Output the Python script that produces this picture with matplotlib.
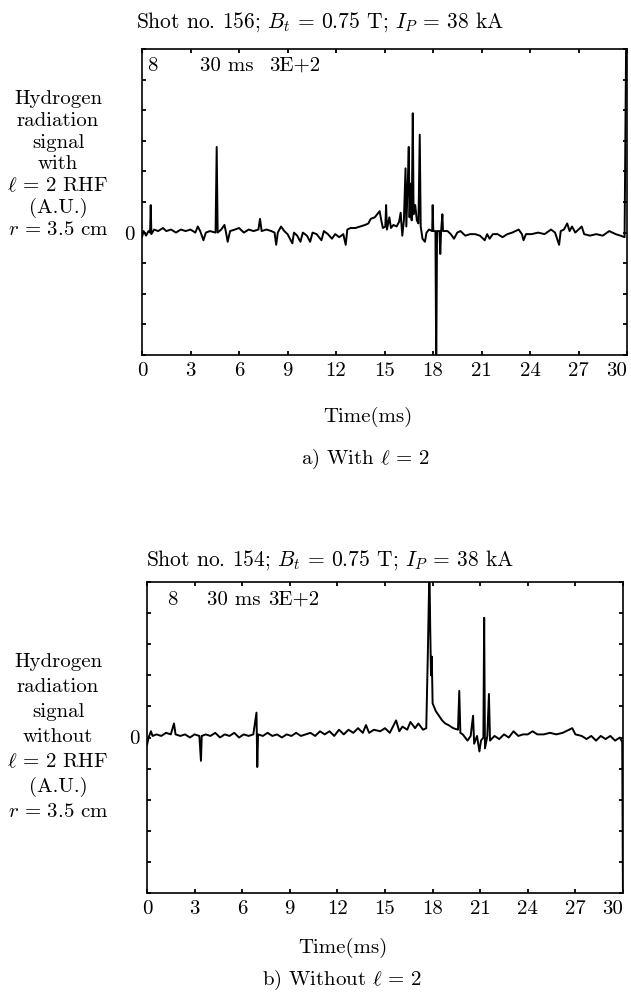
import matplotlib
matplotlib.use("Agg")
import matplotlib.pyplot as plt

plt.rcParams['font.family'] = ['cmr10', 'DejaVu Serif']
plt.rcParams['mathtext.fontset'] = 'cm'
plt.rcParams['axes.formatter.use_mathtext'] = True

# shot 156, with l=2 RHF  (time in ms, signal in tick units)
t_with = [0.00, 0.10, 0.25, 0.40, 0.50, 0.54, 0.58, 0.75, 1.00, 1.30,
          1.50, 1.80, 2.10, 2.40, 2.70, 3.00, 3.30, 3.45, 3.60, 3.80,
          3.95, 4.20, 4.55, 4.62, 4.68, 4.90, 5.10, 5.20, 5.30, 5.45,
          5.75, 6.00, 6.30, 6.60, 6.90, 7.20, 7.30, 7.40, 7.70, 8.00,
          8.20, 8.30, 8.40, 8.60, 8.80, 9.00, 9.30, 9.40, 9.60, 9.80,
          9.95, 10.20, 10.40, 10.55, 10.80, 11.10, 11.25, 11.50, 11.75, 11.95,
          12.20, 12.45, 12.60, 12.70, 12.90, 13.20, 13.50, 13.80, 14.00, 14.15,
          14.40, 14.70, 14.80, 14.90, 15.05, 15.10, 15.15, 15.30, 15.40, 15.55,
          15.75, 15.90, 16.00, 16.10, 16.20, 16.30, 16.35, 16.45, 16.50, 16.55,
          16.60, 16.68, 16.75, 16.80, 16.90, 17.00, 17.10, 17.18, 17.24, 17.35,
          17.50, 17.60, 17.75, 17.95, 17.98, 18.02, 18.15, 18.20, 18.25, 18.40,
          18.45, 18.50, 18.58, 18.62, 18.90, 19.10, 19.30, 19.50, 19.70, 20.00,
          20.30, 20.60, 20.90, 21.20, 21.35, 21.50, 21.70, 22.00, 22.30, 22.60,
          22.90, 23.30, 23.50, 23.60, 23.75, 24.10, 24.50, 24.90, 25.30, 25.55,
          25.80, 25.90, 26.10, 26.30, 26.45, 26.60, 26.80, 27.20, 27.35, 27.70,
          28.10, 28.50, 28.90, 29.30, 29.60, 29.85, 29.95]
v_with = [-0.15, 0.05, -0.10, 0.05, 0.00, 0.90, -0.05, 0.10, 0.05, 0.15,
          0.05, 0.10, 0.00, 0.10, 0.05, 0.10, 0.00, 0.20, 0.05, -0.25,
          0.00, 0.05, 0.00, 2.80, 0.00, 0.10, 0.25, 0.00, -0.30, 0.05,
          0.10, 0.15, 0.00, 0.10, 0.05, 0.10, 0.45, 0.05, 0.10, 0.05,
          0.00, -0.40, 0.00, 0.20, 0.05, -0.05, -0.35, 0.00, -0.10, -0.30,
          0.00, -0.10, -0.30, 0.00, -0.05, -0.25, 0.05, -0.05, -0.20, -0.05,
          -0.15, -0.05, -0.40, 0.10, 0.15, 0.15, 0.20, 0.25, 0.30, 0.45,
          0.50, 0.70, 0.40, 0.15, 0.20, 0.90, 0.10, 0.50, 0.15, 0.25,
          0.20, 0.35, 0.65, -0.10, 0.40, 2.10, 0.20, 1.80, 2.80, 0.50,
          1.60, 0.40, 3.90, 0.60, 0.90, 0.40, 0.30, 3.20, 0.20, -0.20,
          -0.30, 0.00, 0.10, 0.05, 0.90, 0.05, 0.05, -4.50, 0.05, 0.05,
          -0.70, 0.05, 0.60, 0.05, 0.05, -0.05, -0.20, 0.00, 0.05, -0.10,
          -0.05, -0.05, -0.10, -0.25, -0.05, -0.20, -0.05, -0.05, -0.15, -0.05,
          0.00, 0.10, -0.05, -0.25, -0.05, -0.05, 0.00, -0.05, 0.10, 0.00,
          -0.40, 0.05, 0.10, 0.30, 0.05, 0.20, 0.00, 0.20, -0.05, -0.10,
          -0.05, -0.10, 0.05, -0.05, -0.10, -0.15, 6.50]

# shot 154, without l=2 RHF
t_without = [0.00, 0.10, 0.25, 0.35, 0.60, 0.90, 1.20, 1.50, 1.70, 1.80,
             2.10, 2.40, 2.70, 3.00, 3.30, 3.40, 3.45, 3.70, 4.00, 4.30,
             4.60, 4.90, 5.20, 5.50, 5.80, 6.10, 6.40, 6.70, 6.90, 6.95,
             7.00, 7.30, 7.60, 7.90, 8.20, 8.50, 8.80, 9.10, 9.40, 9.70,
             10.00, 10.30, 10.60, 10.90, 11.20, 11.50, 11.80, 12.10, 12.40, 12.70,
             13.00, 13.30, 13.60, 13.80, 14.00, 14.30, 14.70, 15.00, 15.30, 15.70,
             15.90, 16.10, 16.40, 16.60, 16.90, 17.10, 17.40, 17.60, 17.70, 17.80,
             17.85, 17.90, 17.95, 18.00, 18.20, 18.40, 18.60, 18.80, 19.00, 19.30,
             19.60, 19.68, 19.75, 19.90, 20.20, 20.40, 20.55, 20.62, 20.80, 20.95,
             21.05, 21.20, 21.25, 21.30, 21.45, 21.55, 21.62, 21.90, 22.20, 22.50,
             22.80, 23.10, 23.40, 23.70, 24.00, 24.30, 24.60, 25.00, 25.40, 25.80,
             26.20, 26.80, 27.00, 27.40, 27.70, 28.00, 28.30, 28.60, 28.90, 29.20,
             29.50, 29.80, 29.95, 30.00]
v_without = [-0.25, 0.00, 0.20, 0.05, 0.10, 0.05, 0.15, 0.10, 0.45, 0.10,
             0.05, 0.10, 0.00, 0.10, 0.05, -0.75, 0.05, 0.10, 0.05, 0.15,
             0.00, 0.10, 0.05, 0.15, 0.00, 0.10, 0.05, 0.10, 0.80, -0.95,
             0.10, 0.05, 0.15, 0.05, 0.10, 0.00, 0.10, 0.05, 0.15, 0.05,
             0.10, 0.15, 0.05, 0.20, 0.10, 0.20, 0.05, 0.25, 0.10, 0.25,
             0.15, 0.30, 0.15, 0.40, 0.15, 0.25, 0.20, 0.30, 0.15, 0.55,
             0.20, 0.35, 0.25, 0.50, 0.30, 0.45, 0.25, 0.30, 2.70, 5.50,
             3.50, 2.00, 2.60, 1.10, 0.85, 0.70, 0.55, 0.45, 0.40, 0.30,
             0.25, 1.50, 0.15, 0.10, -0.10, 0.05, 0.70, -0.20, 0.05, -0.45,
             -0.10, 0.00, 3.85, -0.35, 0.05, 1.40, -0.10, 0.05, -0.05, 0.10,
             0.00, 0.20, 0.05, 0.10, 0.10, 0.20, 0.10, 0.10, 0.15, 0.10,
             0.15, 0.30, 0.10, 0.05, -0.05, 0.05, -0.10, 0.05, -0.05, 0.05,
             -0.10, 0.00, -0.15, -5.50]

x_ticks = [0, 3, 6, 9, 12, 15, 18, 21, 24, 27, 30]

W, H = 631, 1005
FS = 15
fig = plt.figure(figsize=(W / 100, H / 100), dpi=100)


def px(x, y):
    return x / W, 1 - y / H


def make_panel(rect, t, v, ylim):
    ax = fig.add_axes(rect)
    ax.plot(t, v, color='black', lw=1.4)
    ax.set_xlim(0, 30)
    ax.set_ylim(*ylim)
    ax.set_xticks(x_ticks)
    ax.set_xticklabels([str(x) for x in x_ticks], fontsize=FS)
    ax.get_xticklabels()[-1].set_horizontalalignment('right')
    yt = list(range(ylim[0], ylim[1] + 1))
    ax.set_yticks(yt)
    ax.set_yticklabels(['0' if y == 0 else '' for y in yt], fontsize=FS)
    ax.tick_params(direction='in', length=3, width=1.3, top=True, right=True, pad=5)
    for s in ax.spines.values():
        s.set_linewidth(1.2)
    return ax


# (a) with l = 2
make_panel([142 / W, 1 - 355 / H, 485 / W, 306 / H], t_with, v_with, (-4, 6))
fig.text(*px(320, 22), r'Shot no. 156; $B_t\, =\, 0.75$ T; $I_P\, =\, 38$ kA',
         ha='center', va='center', fontsize=FS + 0.5)
fig.text(*px(147, 66), '8', ha='left', va='center', fontsize=FS)
fig.text(*px(200, 66), '30 ms', ha='left', va='center', fontsize=FS)
fig.text(*px(269, 66), '3E+2', ha='left', va='center', fontsize=FS)
lab_a = ['Hydrogen', 'radiation', 'signal', 'with', r'$\ell\, =\, 2$ RHF', '(A.U.)', r'$r\, =\, 3.5$ cm']
for i, s in enumerate(lab_a):
    fig.text(*px(58, 99 + i * 21.8), s, ha='center', va='center', fontsize=FS)
fig.text(*px(368, 417), 'Time(ms)', ha='center', va='center', fontsize=FS)
fig.text(*px(365, 459), r'a) With $\ell\, =\, 2$', ha='center', va='center', fontsize=FS)

# (b) without l = 2
make_panel([147 / W, 1 - 893 / H, 476 / W, 311 / H], t_without, v_without, (-5, 5))
fig.text(*px(330, 560), r'Shot no. 154; $B_t\, =\, 0.75$ T; $I_P\, =\, 38$ kA',
         ha='center', va='center', fontsize=FS + 0.5)
fig.text(*px(167, 600), '8', ha='left', va='center', fontsize=FS)
fig.text(*px(207, 600), '30 ms', ha='left', va='center', fontsize=FS)
fig.text(*px(268, 600), '3E+2', ha='left', va='center', fontsize=FS)
lab_b = ['Hydrogen', 'radiation', 'signal', 'without', r'$\ell\, =\, 2$ RHF', '(A.U.)', r'$r\, =\, 3.5$ cm']
for i, s in enumerate(lab_b):
    fig.text(*px(58, 662 + i * 25.0), s, ha='center', va='center', fontsize=FS)
fig.text(*px(343, 948), 'Time(ms)', ha='center', va='center', fontsize=FS)
fig.text(*px(342, 980), r'b) Without $\ell\, =\, 2$', ha='center', va='center', fontsize=FS)

fig.savefig('out.png', dpi=100)
